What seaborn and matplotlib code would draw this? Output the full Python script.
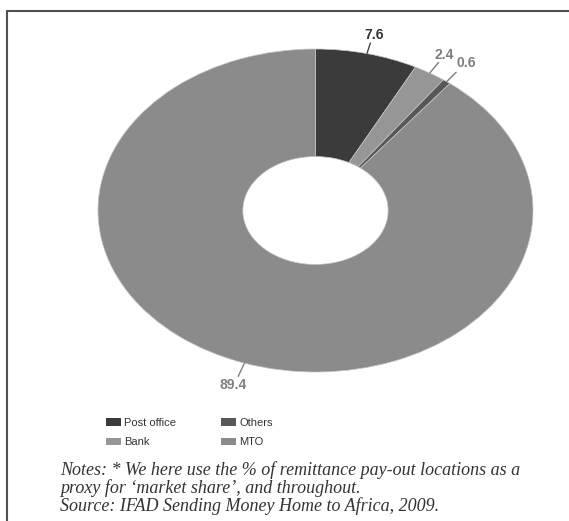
import matplotlib
matplotlib.use("Agg")
import numpy as np
import matplotlib.pyplot as plt
import seaborn as sns
from matplotlib.patches import Patch
from matplotlib.lines import Line2D

# Remittance pay-out locations by type of institution (%)
categories = ["Post office", "Bank", "Others", "MTO"]
shares = [7.6, 2.4, 0.6, 89.4]
value_labels = ["7.6", "2.4", "0.6", "89.4"]
notes = [
    "Notes: * We here use the % of remittance pay-out locations as a",
    "proxy for \u2018market share\u2019, and throughout.",
    "Source: IFAD Sending Money Home to Africa, 2009.",
]

# Styling
colors = ["#3b3b3b", "#969696", "#575757", "#8b8b8b"]
label_colors = ["#333333", "#7d7d7d", "#7d7d7d", "#808080"]
line_colors = ["#444444", "#7d7d7d", "#7d7d7d", "#808080"]
leader_len = [1.07, 1.08, 1.075, 1.09]
label_offsets = [(4, 1), (5, 0), (0, 2), (-5, -1)]
label_align = [("center", "bottom"), ("center", "bottom"),
               ("left", "bottom"), ("center", "top")]

sns.set_theme(style="white")
plt.rcParams["font.family"] = ["Liberation Sans", "DejaVu Sans"]

W, H = 569, 521
fig = plt.figure(figsize=(W / 100, H / 100), dpi=100)
fig.patch.set_facecolor("white")

# Elliptical doughnut: axes box spans the full width/height of the ring
cx, cy, rx, ry = 315.5, 210.5, 217.5, 161.5
ax = fig.add_axes([(cx - rx) / W, (H - (cy + ry)) / H, 2 * rx / W, 2 * ry / H])
wedges, _ = ax.pie(
    shares, colors=colors, startangle=90, counterclock=False, radius=1.0,
    wedgeprops=dict(width=0.666, edgecolor="#c4c4c4", linewidth=0.5),
)
for w in wedges:
    w.set_clip_on(False)
ax.set_aspect("auto")
ax.set_xlim(-1, 1)
ax.set_ylim(-1, 1)
ax.axis("off")

# Value labels with short radial leader lines
total = float(sum(shares))
cum = np.cumsum(shares)
for i, v in enumerate(shares):
    ang = np.deg2rad(90 - 360 * (cum[i] - v / 2) / total)
    x0, y0 = np.cos(ang), np.sin(ang)
    r1 = leader_len[i]
    ax.plot([x0, r1 * x0], [y0, r1 * y0], color=line_colors[i], lw=1.0,
            clip_on=False, solid_capstyle="butt")
    ha, va = label_align[i]
    ax.annotate(value_labels[i], xy=(r1 * x0, r1 * y0),
                xytext=label_offsets[i], textcoords="offset pixels",
                ha=ha, va=va, fontsize=10, fontweight="bold",
                color=label_colors[i], annotation_clip=False)

# Legend (two columns, filled column-wise)
handles = [Patch(facecolor=c, edgecolor="none") for c in colors]
fig.legend(handles, categories, ncol=2, loc="upper left",
           bbox_to_anchor=(106 / W, 1 - 418 / H), frameon=False,
           fontsize=8, handlelength=1.35, handleheight=0.63,
           handletextpad=0.3, columnspacing=4.0, labelspacing=0.85,
           borderpad=0, borderaxespad=0, labelcolor="#333333")

# Notes below the chart
for k, line in enumerate(notes):
    fig.text(60 / W, 1 - (470 + 18 * k) / H, line, ha="left", va="center",
             fontsize=13, style="italic", color="#333333",
             family=["Liberation Serif", "DejaVu Serif"])

# Frame: top rule and left rule
fig.add_artist(Line2D([7 / W, 1.0], [1 - 11 / H, 1 - 11 / H],
                      transform=fig.transFigure, color="#505050", lw=1.5))
fig.add_artist(Line2D([7 / W, 7 / W], [0.0, 1 - 11 / H],
                      transform=fig.transFigure, color="#505050", lw=1.5))

fig.savefig("out.png", dpi=100, facecolor="white")
